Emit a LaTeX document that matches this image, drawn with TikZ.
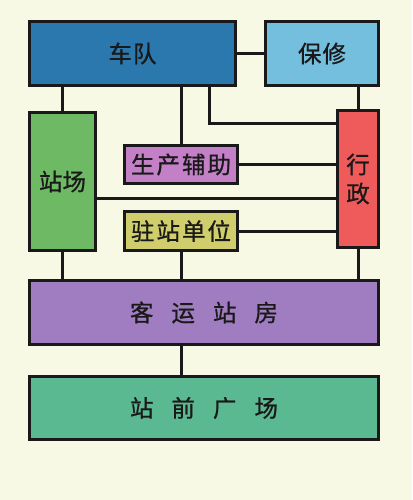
\documentclass[tikz,border=0pt]{standalone}
\usepackage{fontspec}
\newfontfamily\cjk[FakeBold=0.8]{Noto Sans CJK SC}
\definecolor{bg}{HTML}{F8F9E4}
\definecolor{cdui}{HTML}{2A78AE}
\definecolor{cbx}{HTML}{75BFDE}
\definecolor{czc}{HTML}{6DB964}
\definecolor{csc}{HTML}{C480C7}
\definecolor{czz}{HTML}{CFCD6C}
\definecolor{cxz}{HTML}{EF5B5A}
\definecolor{cky}{HTML}{A07CC0}
\definecolor{czq}{HTML}{5BB992}
\tikzset{
  box/.style={draw=black!90, line width=3pt, rectangle, inner sep=0pt, font=\cjk\fontsize{23.5}{28}\selectfont, text=black!90},
  link/.style={draw=black!90, line width=3pt}
}
\begin{document}
\begin{tikzpicture}[x=1pt,y=-1pt]
\fill[bg] (0,0) rectangle (412,500);
\useasboundingbox (0,0) rectangle (412,500);
\node[box, fill=cdui, minimum width=206, minimum height=64] (dui) at (132.5,53.5) {车\hspace{1pt}队};
\node[box, fill=cbx, minimum width=113, minimum height=64] (bx) at (322,53.5) {保\hspace{1pt}修};
\node[box, fill=czc, minimum width=66, minimum height=138] (zc) at (62.5,181.5) {站场};
\node[box, fill=csc, minimum width=113, minimum height=38] (sc) at (181,164.5) {生\hspace{2pt}产\hspace{2pt}辅\hspace{2pt}助};
\node[box, fill=czz, minimum width=113, minimum height=39] (zz) at (181,231) {驻\hspace{2pt}站\hspace{2pt}单\hspace{2pt}位};
\node[box, fill=cxz, minimum width=41, minimum height=137, align=center] (xz) at (358,179) {行\\[1pt]政};
\node[box, fill=cky, minimum width=349, minimum height=64] (ky) at (204,312.5) {客\hspace{18pt}运\hspace{18pt}站\hspace{18pt}房};
\node[box, fill=czq, minimum width=349, minimum height=63] (zq) at (204,408) {站\hspace{18pt}前\hspace{18pt}广\hspace{18pt}场};
\coordinate (bend) at (209,123);
\draw[link] (dui.east) -- (bx.west);
\draw[link] (dui.south -| zc.north) -- (zc.north);
\draw[link] (dui.south -| sc.north) -- (sc.north);
\draw[link] (bx.south -| xz.north) -- (xz.north);
\draw[link] (dui.south -| bend) |- (bend -| xz.west);
\draw[link] (sc.east) -- (sc.east -| xz.west);
\draw[link] (zc.east |- 0,198) -- (xz.west |- 0,198);
\draw[link] (zz.east) -- (zz.east -| xz.west);
\draw[link] (zc.south) -- (zc.south |- ky.north);
\draw[link] (zz.south) -- (zz.south |- ky.north);
\draw[link] (xz.south) -- (xz.south |- ky.north);
\draw[link] (ky.south -| zz.south) -- (zq.north -| zz.south);
\end{tikzpicture}
\end{document}
